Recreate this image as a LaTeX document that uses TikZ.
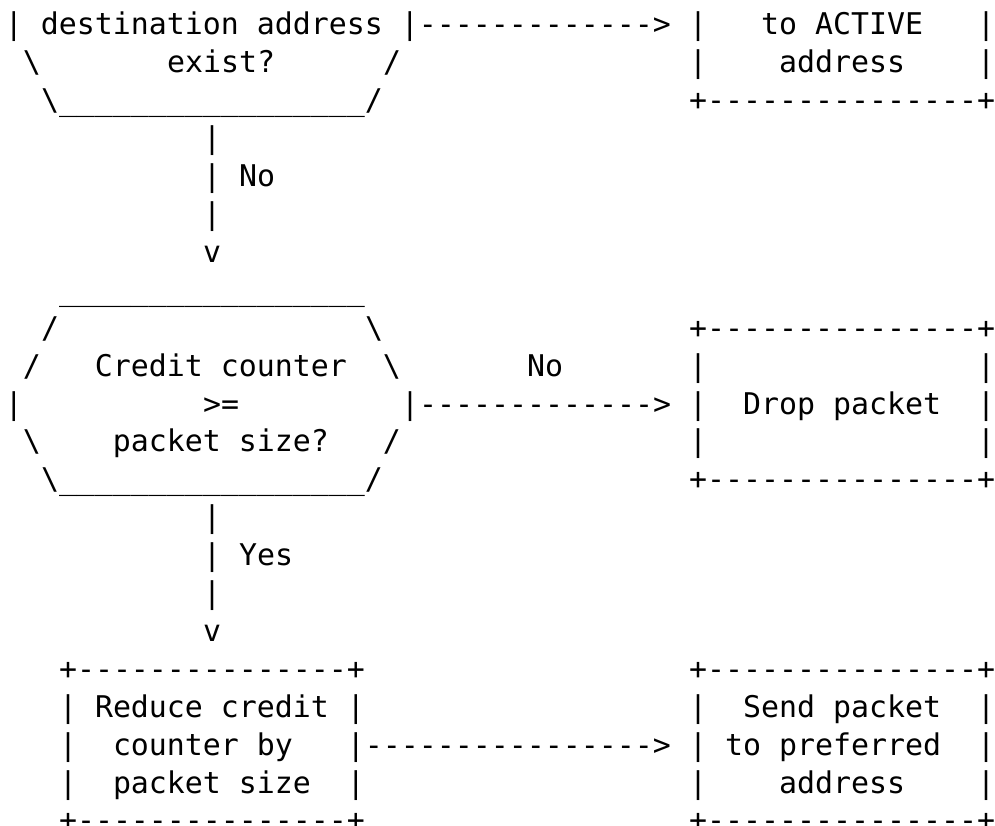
\documentclass[tikz,border=0pt]{standalone}
\usepackage{fontspec}
\setmonofont{DejaVu Sans Mono}
\usepackage{tikz}
\usepackage{xcolor}
\definecolor{inkblack}{RGB}{0, 0, 0}
\newcommand{\boxedge}{+---------------+}
\newcommand{\boxside}{|~~~~~~~~~~~~~~~|}
\newcommand{\hexedge}{\_\_\_\_\_\_\_\_\_\_\_\_\_\_\_\_\_}
\tikzset{
    chars/.style={
        anchor=base west, inner sep=0pt, outer sep=0pt, text=inkblack,
        font=\ttfamily\fontsize{29.9pt}{37.9pt}\selectfont
    },
}

\begin{document}
\begin{tikzpicture}[x=18pt, y=-37.9pt]
        \useasboundingbox (-5pt,35pt) rectangle (990pt,-791pt);
        \node[chars] (askaddr) at (0,0) {|~destination~address~|------------->};
        \node[chars] (activetop) at (38,0) {|~~~to~ACTIVE~~~|};
        \node[chars] (askaddrmid) at (1,1) {\textbackslash~~~~~~~exist?~~~~~~/};
        \node[chars] (activemid) at (38,1) {|~~~~address~~~~|};
        \node[chars] (askaddrbot) at (2,2) {\textbackslash\hexedge/};
        \node[chars] (activebot) at (38,2) {\boxedge};
        \node[chars] (nostem1) at (11,3) {|};
        \node[chars] (nostem2) at (11,4) {|~No};
        \node[chars] (nostem3) at (11,5) {|};
        \node[chars] (nohead) at (11,6) {v};
        \node[chars] (credittop) at (3,7) {\hexedge};
        \node[chars] (credit1) at (2,8) {/~~~~~~~~~~~~~~~~~\textbackslash};
        \node[chars] (droptop) at (38,8) {\boxedge};
        \node[chars] (credit2) at (1,9) {/~~~Credit~counter~~\textbackslash};
        \node[chars] (droplabel) at (29,9) {No};
        \node[chars] (drop1) at (38,9) {\boxside};
        \node[chars] (credit3) at (0,10) {|~~~~~~~~~~>=~~~~~~~~~|------------->};
        \node[chars] (drop2) at (38,10) {|~~Drop~packet~~|};
        \node[chars] (credit4) at (1,11) {\textbackslash~~~~packet~size?~~~/};
        \node[chars] (drop3) at (38,11) {\boxside};
        \node[chars] (creditbot) at (2,12) {\textbackslash\hexedge/};
        \node[chars] (dropbot) at (38,12) {\boxedge};
        \node[chars] (yesstem1) at (11,13) {|};
        \node[chars] (yesstem2) at (11,14) {|~Yes};
        \node[chars] (yesstem3) at (11,15) {|};
        \node[chars] (yeshead) at (11,16) {v};
        \node[chars] (reducetop) at (3,17) {\boxedge};
        \node[chars] (sendtop) at (38,17) {\boxedge};
        \node[chars] (reduce1) at (3,18) {|~Reduce~credit~|};
        \node[chars] (send1) at (38,18) {|~~Send~packet~~|};
        \node[chars] (reduce2) at (3,19) {|~~counter~by~~~|---------------->};
        \node[chars] (send2) at (38,19) {|~to~preferred~~|};
        \node[chars] (reduce3) at (3,20) {|~~packet~size~~|};
        \node[chars] (send3) at (38,20) {|~~~~address~~~~|};
        \node[chars] (reducebot) at (3,21) {\boxedge};
        \node[chars] (sendbot) at (38,21) {\boxedge};
    \end{tikzpicture}
\end{document}
